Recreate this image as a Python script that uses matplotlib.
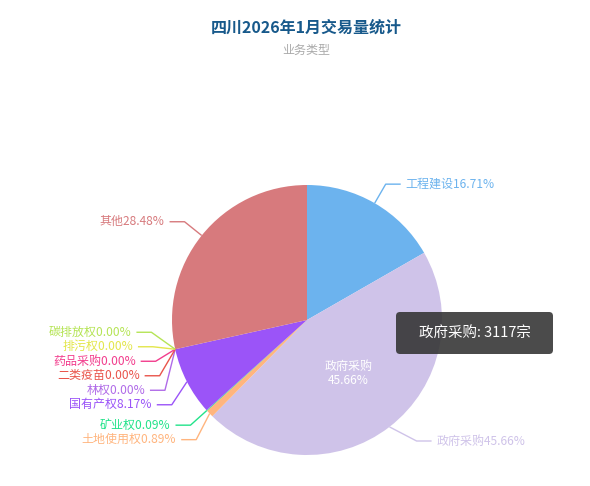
import numpy as np
import matplotlib
matplotlib.use('Agg')
import matplotlib.pyplot as plt
from matplotlib.patches import FancyBboxPatch

plt.rcParams['font.family'] = ['Noto Sans CJK SC', 'DejaVu Sans']

# ---------------- data ----------------
title = '四川2026年1月交易量统计'
subtitle = '业务类型'
categories = ['工程建设', '政府采购', '土地使用权', '矿业权', '国有产权', '林权',
              '二类疫苗', '药品采购', '排污权', '碳排放权', '其他']
counts = [1141, 3117, 61, 6, 558, 0, 0, 0, 0, 0, 1944]
colors = ['#6cb3ee', '#cfc3e9', '#ffb57e', '#22e38a', '#9b54f8', '#b06be8',
          '#e9544b', '#f23d8d', '#e3e64b', '#b5e455', '#d77a7d']
unit = '宗'
highlight = '政府采购'

# ---------------- layout ----------------
W, H = 590, 486
PX = 0.72  # points per pixel at dpi 100
cx, cy, r = 307, 320, 135

fig = plt.figure(figsize=(W / 100, H / 100), dpi=100)
ax = fig.add_axes([0, 0, 1, 1])

vals = np.array(counts, dtype=float)
frac = vals / vals.sum()
# y axis is inverted below (pixel coordinates), so startangle=-90 with
# counterclockwise drawing appears clockwise from the top on screen
ax.pie(vals, colors=colors, startangle=-90, counterclock=True,
       center=(cx, cy), radius=r, wedgeprops=dict(linewidth=0))
ax.set_xlim(0, W)
ax.set_ylim(H, 0)
ax.set_aspect('equal')
ax.axis('off')

cum = np.cumsum(frac)
mid = cum - frac / 2
theta = np.deg2rad(-90 + 360 * mid)

R_e = 157          # elbow radius
ell_a, ell_b = 156, 170   # ellipse used for shifted labels
y_max = 441        # lowest allowed label line
L2 = 15
gap = 5
line_h = 14.5

items = []
for i, cat in enumerate(categories):
    c, s = np.cos(theta[i]), np.sin(theta[i])
    side = 1 if c >= 0 else -1
    items.append(dict(i=i, side=side,
                      ax=cx + r * c, ay=cy + r * s,
                      ex=cx + R_e * c, ey=cy + R_e * s))


def spread(group):
    # group: list of items sorted top to bottom
    clusters = [[it] for it in group]
    def positions(cl):
        m = np.mean([it['ey'] for it in cl])
        n = len(cl)
        return [m + (k - (n - 1) / 2) * line_h for k in range(n)]
    merged = True
    while merged:
        merged = False
        for j in range(len(clusters) - 1):
            if positions(clusters[j])[-1] + line_h > positions(clusters[j + 1])[0]:
                clusters[j] = clusters[j] + clusters[j + 1]
                del clusters[j + 1]
                merged = True
                break
    for cl in clusters:
        pos = positions(cl)
        n = len(cl)
        bias = 4 + 0.7 * n if n > 1 else 0
        for it, p in zip(cl, pos):
            it['ly'] = min(p + bias, y_max)


for side in (1, -1):
    grp = [it for it in items if it['side'] == side]
    grp.sort(key=lambda it: (it['ey'], side * it['i']))
    spread(grp)

for it in items:
    i, side = it['i'], it['side']
    ly = it['ly']
    if abs(ly - it['ey']) > 0.5:
        dy = ly - cy
        ex = cx + side * ell_a * np.sqrt(max(1 - (dy / ell_b) ** 2, 0))
    else:
        ex = it['ex']
    xs = [it['ax'], ex, ex + side * L2]
    ys = [it['ay'], ly, ly]
    ax.plot(xs, ys, color=colors[i], lw=1, solid_capstyle='butt', zorder=3)
    txt = f"{categories[i]}{frac[i] * 100:.2f}%"
    ax.text(ex + side * (L2 + gap), ly, txt, color=colors[i],
            fontsize=12 * PX, ha='left' if side > 0 else 'right', va='center')

# inner emphasis label
hi = categories.index(highlight)
ix = cx + 0.5 * r * np.cos(theta[hi])
iy = cy + 0.5 * r * np.sin(theta[hi])
ax.text(ix, iy, f"{highlight}\n{frac[hi] * 100:.2f}%", color='white',
        fontsize=12 * PX, ha='center', va='center', linespacing=1.1)

# tooltip
tx0, ty0, tw, th = 396, 312, 157, 42
box = FancyBboxPatch((tx0, ty0), tw, th, boxstyle='round,pad=0,rounding_size=4',
                     fc=(50 / 255, 50 / 255, 50 / 255, 0.88), ec='none', zorder=5)
ax.add_patch(box)
ax.text(tx0 + tw / 2, ty0 + th / 2, f"{highlight}: {counts[hi]}{unit}",
        color='white', fontsize=14.5 * PX, ha='center', va='center', zorder=6)

# titles
ax.text(306, 28, title, color='#17598b', fontsize=16 * PX, fontweight='bold',
        ha='center', va='center')
ax.text(306, 50, subtitle, color='#aaaaaa', fontsize=12 * PX,
        ha='center', va='center')

fig.savefig('out.png', dpi=100)
